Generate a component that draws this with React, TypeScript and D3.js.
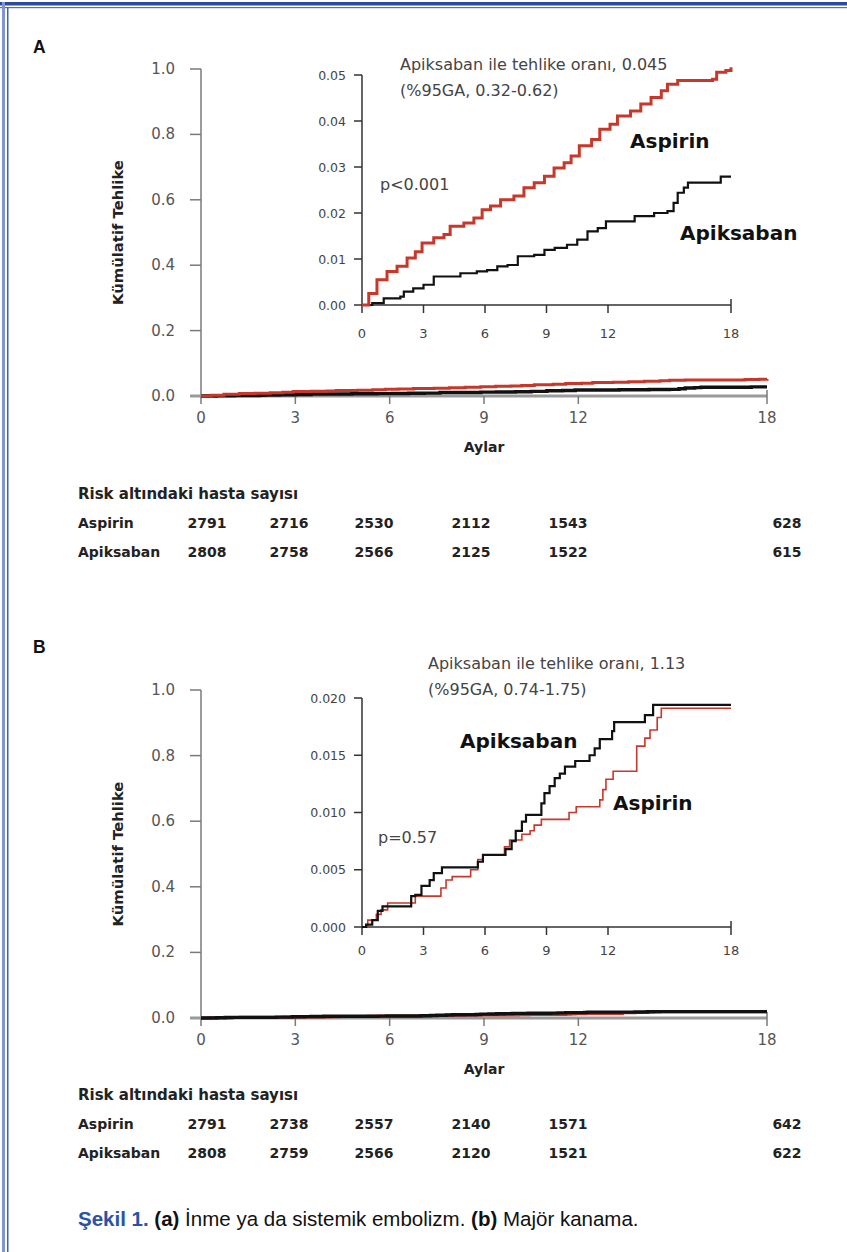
import React from "react";
import * as d3 from "d3";

// ---------- DATA ----------
const monthTicks = [0, 3, 6, 9, 12, 18];
const mainYTicks = [0, 0.2, 0.4, 0.6, 0.8, 1.0];
const insetATicks = [0, 0.01, 0.02, 0.03, 0.04, 0.05];
const insetBTicks = [0, 0.005, 0.01, 0.015, 0.02];

// Panel A – stroke or systemic embolism (cumulative hazard)
const aAspirinT = [0, 0.33, 0.73, 1.22, 1.71, 2.2, 2.6, 2.93, 3.5, 4.0, 4.3, 4.97, 5.46, 5.86, 6.27, 6.76, 7.41, 7.9, 8.4, 8.9, 9.37, 9.86, 10.2, 10.6, 11.2, 11.6, 12.1, 12.46, 13.1, 13.6, 14.1, 14.6, 14.9, 15.4, 17.1, 17.3, 17.75, 18];
const aAspirinV = [0, 0.0025, 0.0055, 0.0073, 0.0084, 0.0102, 0.0116, 0.0135, 0.0146, 0.0153, 0.0171, 0.0178, 0.0189, 0.0207, 0.0215, 0.0229, 0.0237, 0.0255, 0.0266, 0.028, 0.0298, 0.0309, 0.0324, 0.0346, 0.036, 0.0382, 0.0393, 0.0411, 0.0422, 0.0437, 0.0451, 0.0466, 0.048, 0.0488, 0.0491, 0.0506, 0.051, 0.0517];
const aApixT = [0, 0.5, 1.06, 1.87, 2.04, 2.5, 3.0, 3.5, 4.8, 5.6, 6.1, 6.6, 7.1, 7.6, 8.4, 8.9, 9.4, 10.0, 10.5, 11.0, 11.5, 11.9, 13.3, 14.25, 14.9, 15.2, 15.4, 15.7, 15.9, 17.5, 18];
const aApixV = [0, 0.0004, 0.00146, 0.0018, 0.0029, 0.0036, 0.0044, 0.0062, 0.0069, 0.0073, 0.0076, 0.0084, 0.0087, 0.0106, 0.0109, 0.012, 0.0124, 0.0131, 0.0142, 0.016, 0.0167, 0.0182, 0.0193, 0.02, 0.0204, 0.0222, 0.0244, 0.0255, 0.0266, 0.0279, 0.0279];

// Panel B – major bleeding (cumulative hazard)
const bAspirinT = [0, 0.28, 0.7, 0.93, 1.25, 2.6, 3.85, 4.1, 4.4, 5.3, 5.65, 5.9, 6.95, 7.2, 7.8, 8.2, 8.4, 8.75, 10.1, 10.45, 11.6, 11.75, 11.9, 12.25, 13.4, 13.8, 14.05, 14.4, 14.6, 18];
const bAspirinV = [0, 0.0006, 0.0011, 0.0015, 0.0021, 0.0027, 0.0034, 0.0041, 0.0044, 0.005, 0.0059, 0.0063, 0.007, 0.0076, 0.0081, 0.0084, 0.0089, 0.0094, 0.01, 0.0105, 0.0111, 0.012, 0.0129, 0.0136, 0.0158, 0.0165, 0.0172, 0.0183, 0.0191, 0.0191];
const bApixT = [0, 0.2, 0.5, 0.77, 1.0, 2.4, 2.6, 2.9, 3.3, 3.5, 3.9, 5.65, 5.9, 7.0, 7.3, 7.5, 7.8, 8.0, 8.75, 8.9, 9.15, 9.4, 9.65, 9.9, 10.4, 11.1, 11.35, 11.6, 12.2, 12.3, 13.8, 14.2, 18];
const bApixV = [0, 0.0002, 0.0006, 0.0014, 0.0018, 0.0027, 0.0028, 0.0036, 0.0041, 0.0047, 0.0052, 0.0057, 0.0063, 0.0068, 0.0075, 0.0084, 0.0092, 0.0098, 0.0108, 0.0117, 0.0123, 0.013, 0.0134, 0.014, 0.0145, 0.015, 0.0156, 0.0164, 0.0171, 0.0179, 0.0185, 0.0194, 0.0194];

// Risk tables
const riskMonths = [0, 3, 6, 9, 12, 18];
const aRiskAspirin = [2791, 2716, 2530, 2112, 1543, 628];
const aRiskApix = [2808, 2758, 2566, 2125, 1522, 615];
const bRiskAspirin = [2791, 2738, 2557, 2140, 1571, 642];
const bRiskApix = [2808, 2759, 2566, 2120, 1521, 622];

const seriesNames = ["Aspirin", "Apiksaban"];

// ---------- STYLE ----------
const W = 847;
const H = 1252;
const RED = "#c9372a";
const BLACK = "#111111";
const FONT = "'DejaVu Sans', Verdana, sans-serif";
const CAPFONT = "'Liberation Sans', Arial, sans-serif";

// column placement of the risk table (piecewise scale over months)
const tableX = d3.scaleLinear().domain(riskMonths).range([207, 289, 374, 471, 568, 787]);

const zip = (t: number[], v: number[]) => t.map((d, i) => [d, v[i]] as [number, number]);

type PanelProps = {
  letter: string;
  letterY: number;
  mainTop: number;
  mainBottom: number;
  insetTop: number;
  insetBottom: number;
  insetMax: number;
  insetTicks: number[];
  insetFmt: (d: number) => string;
  insetXLabelDy: number;
  asp: [number, number][];
  apx: [number, number][];
  aspWidth: number;
  apxWidth: number;
  blackOnTop: boolean;
  hr1: string;
  hr2: string;
  hrX: number;
  hrY: number;
  pText: string;
  pX: number;
  pY: number;
  aspLabel: [number, number];
  apxLabel: [number, number];
  tableY: number;
  riskAsp: number[];
  riskApx: number[];
};

function Panel(p: PanelProps) {
  const xMain = d3.scaleLinear().domain([0, 18]).range([201, 767]);
  const yMain = d3.scaleLinear().domain([0, 1]).range([p.mainBottom, p.mainTop]);
  const xIn = d3.scaleLinear().domain([0, 18]).range([362, 731]);
  const yIn = d3.scaleLinear().domain([0, p.insetMax]).range([p.insetBottom, p.insetTop]);

  const mainLine = d3
    .line<[number, number]>()
    .x((d) => xMain(d[0]))
    .y((d) => yMain(d[1]))
    .curve(d3.curveStepAfter);
  const inLine = d3
    .line<[number, number]>()
    .x((d) => xIn(d[0]))
    .y((d) => yIn(d[1]))
    .curve(d3.curveStepAfter);

  const redMain = <path d={mainLine(p.asp) || ""} fill="none" stroke={RED} strokeWidth={3} />;
  const blackMain = <path d={mainLine(p.apx) || ""} fill="none" stroke={BLACK} strokeWidth={3.4} />;
  const redIn = <path d={inLine(p.asp) || ""} fill="none" stroke={RED} strokeWidth={p.aspWidth} />;
  const blackIn = <path d={inLine(p.apx) || ""} fill="none" stroke={BLACK} strokeWidth={p.apxWidth} />;

  return (
    <g>
      <text x={33} y={p.letterY} fontFamily={CAPFONT} fontWeight="bold" fontSize={17.5} fill="#111" dominantBaseline="central">
        {p.letter}
      </text>

      {/* main axes */}
      <line x1={201} x2={201} y1={p.mainTop} y2={p.mainBottom} stroke="#7a7a7a" strokeWidth={1.5} />
      {mainYTicks.map((t) => (
        <g key={"my" + t}>
          <line x1={190} x2={201} y1={yMain(t)} y2={yMain(t)} stroke="#7a7a7a" strokeWidth={1.5} />
          <text x={175} y={yMain(t)} textAnchor="end" dominantBaseline="central" fontFamily={FONT} fontSize={15} fill="#555">
            {d3.format(".1f")(t)}
          </text>
        </g>
      ))}
      <text
        transform={`translate(117,${(p.mainTop + p.mainBottom) / 2}) rotate(-90)`}
        textAnchor="middle"
        dominantBaseline="central"
        fontFamily={FONT}
        fontWeight="bold"
        fontSize={14.8}
        fill="#222"
      >
        Kümülatif Tehlike
      </text>
      <line x1={190} x2={767} y1={p.mainBottom} y2={p.mainBottom} stroke="#9a9a9a" strokeWidth={3} />
      {monthTicks.map((m) => (
        <g key={"mx" + m}>
          <line x1={xMain(m)} x2={xMain(m)} y1={m === 18 ? p.mainBottom - 6 : p.mainBottom} y2={p.mainBottom + 8} stroke="#7a7a7a" strokeWidth={1.5} />
          <text x={xMain(m)} y={p.mainBottom + 22} textAnchor="middle" dominantBaseline="central" fontFamily={FONT} fontSize={15} fill="#555">
            {m}
          </text>
        </g>
      ))}
      <text x={484} y={p.mainBottom + 51} textAnchor="middle" dominantBaseline="central" fontFamily={FONT} fontWeight="bold" fontSize={14} fill="#222">
        Aylar
      </text>
      {p.blackOnTop ? (
        <>
          {redMain}
          {blackMain}
        </>
      ) : (
        <>
          {blackMain}
          {redMain}
        </>
      )}

      {/* inset */}
      <line x1={362} x2={362} y1={p.insetTop} y2={p.insetBottom} stroke="#333" strokeWidth={1.5} />
      {p.insetTicks.map((t) => (
        <g key={"iy" + t}>
          <line x1={354} x2={362} y1={yIn(t)} y2={yIn(t)} stroke="#333" strokeWidth={1.5} />
          <text x={346} y={yIn(t)} textAnchor="end" dominantBaseline="central" fontFamily={FONT} fontSize={12.5} fill="#444">
            {p.insetFmt(t)}
          </text>
        </g>
      ))}
      <line x1={362} x2={731} y1={p.insetBottom} y2={p.insetBottom} stroke="#333" strokeWidth={1.5} />
      {monthTicks.map((m) => (
        <g key={"ix" + m}>
          <line x1={xIn(m)} x2={xIn(m)} y1={m === 18 ? p.insetBottom - 6 : p.insetBottom} y2={p.insetBottom + 8} stroke="#333" strokeWidth={1.5} />
          <text x={xIn(m)} y={p.insetBottom + p.insetXLabelDy} textAnchor="middle" dominantBaseline="central" fontFamily={FONT} fontSize={13} fill="#444">
            {m}
          </text>
        </g>
      ))}
      {p.blackOnTop ? (
        <>
          {redIn}
          {blackIn}
        </>
      ) : (
        <>
          {blackIn}
          {redIn}
        </>
      )}

      <text x={p.hrX} y={p.hrY} dominantBaseline="central" fontFamily={FONT} fontSize={16} fill="#444">
        {p.hr1}
      </text>
      <text x={p.hrX} y={p.hrY + 26} dominantBaseline="central" fontFamily={FONT} fontSize={16} fill="#444">
        {p.hr2}
      </text>
      <text x={p.pX} y={p.pY} dominantBaseline="central" fontFamily={FONT} fontSize={16} fill="#444">
        {p.pText}
      </text>
      <text x={p.aspLabel[0]} y={p.aspLabel[1]} dominantBaseline="central" fontFamily={FONT} fontWeight="bold" fontSize={20} fill="#111">
        {seriesNames[0]}
      </text>
      <text x={p.apxLabel[0]} y={p.apxLabel[1]} dominantBaseline="central" fontFamily={FONT} fontWeight="bold" fontSize={20} fill="#111">
        {seriesNames[1]}
      </text>

      {/* risk table */}
      <text x={78} y={p.tableY} dominantBaseline="central" fontFamily={FONT} fontWeight="bold" fontSize={15} fill="#222">
        Risk altındaki hasta sayısı
      </text>
      {[p.riskAsp, p.riskApx].map((row, r) => (
        <g key={"row" + r}>
          <text x={78} y={p.tableY + 29 * (r + 1)} dominantBaseline="central" fontFamily={FONT} fontWeight="bold" fontSize={14} fill="#222">
            {seriesNames[r]}
          </text>
          {row.map((v, i) => (
            <text
              key={i}
              x={tableX(riskMonths[i])}
              y={p.tableY + 29 * (r + 1)}
              textAnchor="middle"
              dominantBaseline="central"
              fontFamily={FONT}
              fontWeight="bold"
              fontSize={14}
              fill="#222"
            >
              {v}
            </text>
          ))}
        </g>
      ))}
    </g>
  );
}

export default function App() {
  return (
    <svg width={W} height={H} viewBox={`0 0 ${W} ${H}`} style={{ position: "absolute", left: 0, top: 0, background: "#fff" }}>
      <rect x={0} y={0} width={W} height={H} fill="#fff" />
      {/* border */}
      <rect x={0} y={2} width={W} height={3.5} fill="#2b4a9c" />
      <rect x={0} y={7} width={W} height={1.2} fill="#5570c0" />
      <rect x={2} y={2} width={3} height={H} fill="#7f95d5" />
      <rect x={7} y={7} width={1.5} height={H} fill="#4060b8" />

      <Panel
        letter="A"
        letterY={47}
        mainTop={69}
        mainBottom={396}
        insetTop={75}
        insetBottom={305}
        insetMax={0.05}
        insetTicks={insetATicks}
        insetFmt={d3.format(".2f")}
        insetXLabelDy={28}
        asp={zip(aAspirinT, aAspirinV)}
        apx={zip(aApixT, aApixV)}
        aspWidth={3}
        apxWidth={2.2}
        blackOnTop={false}
        hr1="Apiksaban ile tehlike oranı, 0.045"
        hr2="(%95GA, 0.32-0.62)"
        hrX={400}
        hrY={64}
        pText="p<0.001"
        pX={380}
        pY={184}
        aspLabel={[630, 141]}
        apxLabel={[680, 233]}
        tableY={494}
        riskAsp={aRiskAspirin}
        riskApx={aRiskApix}
      />
      <Panel
        letter="B"
        letterY={647}
        mainTop={690}
        mainBottom={1018}
        insetTop={698}
        insetBottom={927}
        insetMax={0.02}
        insetTicks={insetBTicks}
        insetFmt={d3.format(".3f")}
        insetXLabelDy={23}
        asp={zip(bAspirinT, bAspirinV)}
        apx={zip(bApixT, bApixV)}
        aspWidth={1.6}
        apxWidth={2.2}
        blackOnTop={true}
        hr1="Apiksaban ile tehlike oranı, 1.13"
        hr2="(%95GA, 0.74-1.75)"
        hrX={428}
        hrY={663}
        pText="p=0.57"
        pX={378}
        pY={837}
        aspLabel={[613, 803]}
        apxLabel={[460, 741]}
        tableY={1095}
        riskAsp={bRiskAspirin}
        riskApx={bRiskApix}
      />

      <text x={78} y={1218} dominantBaseline="central" fontFamily={CAPFONT} fontSize={20.5} fill="#111">
        <tspan fontWeight="bold" fill="#2a52a8">Şekil 1.</tspan>
        <tspan fontWeight="bold"> (a)</tspan>
        <tspan> İnme ya da sistemik embolizm. </tspan>
        <tspan fontWeight="bold">(b)</tspan>
        <tspan> Majör kanama.</tspan>
      </text>
    </svg>
  );
}
